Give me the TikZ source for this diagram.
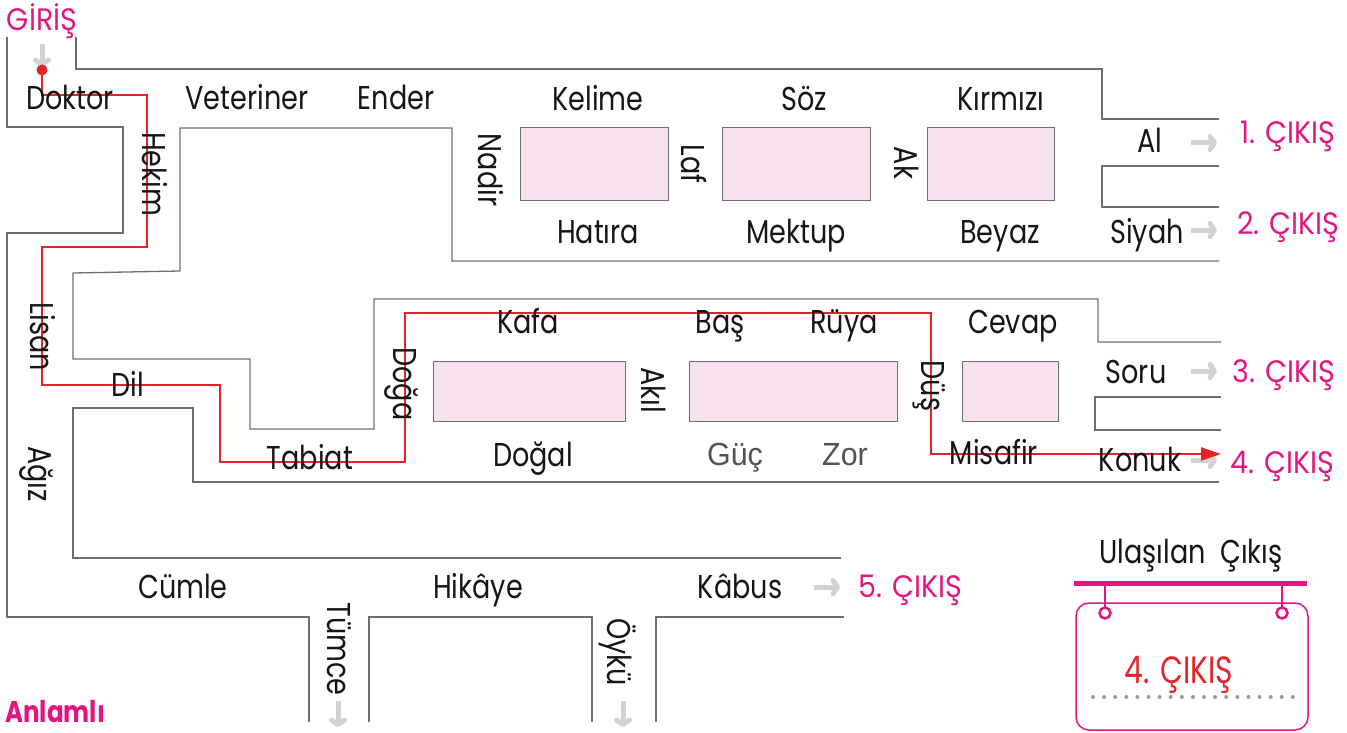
\documentclass[tikz,border=0pt]{standalone}
\usepackage{fontspec}
\setmainfont{Poppins}[FakeStretch=0.82]
\newfontfamily\exitfont{Poppins}[FakeStretch=0.92]
\newfontfamily\condfont{Liberation Sans}[FakeStretch=0.95]
\newfontfamily\signfont{Poppins}[FakeStretch=0.78]
\usetikzlibrary{arrows.meta}
\definecolor{wallgray}{HTML}{6E6E6E}
\definecolor{boxpink}{HTML}{F7E1EC}
\definecolor{exitpink}{HTML}{E5157F}
\definecolor{routered}{HTML}{E3242B}
\definecolor{arrgray}{HTML}{D2D2D2}
\definecolor{txtblack}{HTML}{151515}
\definecolor{dotgray}{HTML}{9A9A9A}
\begin{document}
\begin{tikzpicture}[x=1pt,y=-1pt,
  wall/.style={draw=wallgray, line width=1.3pt},
  pinkbox/.style={draw=wallgray, fill=boxpink, line width=1pt},
  lbl/.style={font=\fontsize{33}{33}\selectfont, text=txtblack, inner sep=0pt, anchor=base},
  vlbl/.style={lbl, rotate=-90},
  thinlbl/.style={font=\condfont\fontsize{32}{32}\selectfont, text=black!68, inner sep=0pt, anchor=base},
  exitlbl/.style={font=\exitfont\fontsize{31}{31}\selectfont, text=exitpink, inner sep=0pt, anchor=base west},
  grayarr/.style={draw=arrgray, line width=5pt, -{Straight Barb[length=4.5pt,width=13pt,round]}},
  route/.style={draw=routered, line width=2.4pt},
  signline/.style={draw=exitpink, line width=2.5pt}
]
\useasboundingbox (0,0) rectangle (1347,733);

% ---------------- walls ----------------
\draw[wall] (7,37) -- (7,127) -- (123,127) -- (123,233) -- (7,233) -- (7,617) -- (309,617) -- (309,722);
\draw[wall] (76,37) -- (76,69) -- (1102,69) -- (1102,119) -- (1219,119);
\draw[wall] (1219,166) -- (1102,166) -- (1102,207) -- (1219,207);
\draw[wall] (1219,261) -- (452,261) -- (452,128) -- (180,128) -- (180,271) -- (73,273) -- (73,359) -- (250,359) -- (250,429) -- (374,429) -- (374,299) -- (1098,299) -- (1098,342) -- (1221,342);
\draw[wall] (1221,397) -- (1095,397) -- (1095,430) -- (1221,430);
\draw[wall] (1219,482) -- (193,482) -- (193,408) -- (73,408) -- (73,558) -- (841,558);
\draw[wall] (369,722) -- (369,617) -- (592,617) -- (592,722);
\draw[wall] (656,722) -- (656,617) -- (844,617);

% ---------------- pink boxes ----------------
\draw[pinkbox] (520,128) rectangle (668,200);
\draw[pinkbox] (722,128) rectangle (870,200);
\draw[pinkbox] (927,128) rectangle (1054,200);
\draw[pinkbox] (433,361) rectangle (625,421);
\draw[pinkbox] (689,361) rectangle (897,421);
\draw[pinkbox] (962,361) rectangle (1058,421);

% ---------------- gray arrows ----------------
\coordinate (e0s) at (42,44);   \coordinate (e0e) at (42,67);
\coordinate (x1s) at (1191,143); \coordinate (x1e) at (1217,143);
\coordinate (x2s) at (1191,230); \coordinate (x2e) at (1217,230);
\coordinate (x3s) at (1191,371); \coordinate (x3e) at (1217,371);
\coordinate (x4s) at (1191,460); \coordinate (x4e) at (1217,460);
\coordinate (x5s) at (814,587);  \coordinate (x5e) at (840,587);
\coordinate (t1s) at (338,701);  \coordinate (t1e) at (338,727);
\coordinate (t2s) at (623,701);  \coordinate (t2e) at (623,727);
\foreach \a in {e0,x1,x2,x3,x4,x5,t1,t2}{\draw[grayarr] (\a s) -- (\a e);}

% ---------------- red route ----------------
\coordinate (r0) at (42,70);
\coordinate (r1) at (42,95);
\coordinate (r2) at (147,95);
\coordinate (r3) at (147,247);
\coordinate (r4) at (42,247);
\coordinate (r5) at (42,385);
\coordinate (r6) at (220,385);
\coordinate (r7) at (220,462);
\coordinate (r8) at (405,462);
\coordinate (r9) at (405,313);
\coordinate (r10) at (931,313);
\coordinate (r11) at (931,454);
\coordinate (r12) at (1221,454);
\draw[route, -{Triangle[length=20pt,width=13pt]}] (r0) -- (r1) -- (r2) -- (r3) -- (r4) -- (r5) -- (r6) -- (r7) -- (r8) -- (r9) -- (r10) -- (r11) -- (r12);
\fill[routered] (r0) circle (5.5pt);

% ---------------- horizontal labels ----------------
\node[lbl] (doktor) at (70,110) {Doktor};
\node[lbl] (veteriner) at (247,110) {Veteriner};
\node[lbl] (ender) at (396,110) {Ender};
\node[lbl] (kelime) at (598,111) {Kelime};
\node[lbl] (soz) at (804,111) {Söz};
\node[lbl] (kirmizi) at (1001,111) {Kırmızı};
\node[lbl] (al) at (1150,153) {Al};
\node[lbl] (hatira) at (598,243) {Hatıra};
\node[lbl] (mektup) at (796,243) {Mektup};
\node[lbl] (beyaz) at (1000,243) {Beyaz};
\node[lbl] (siyah) at (1147,243) {Siyah};
\node[lbl] (dil) at (128,396) {Dil};
\node[lbl] (kafa) at (528,333) {Kafa};
\node[lbl] (bas) at (720,333) {Baş};
\node[lbl] (ruya) at (844,333) {Rüya};
\node[lbl] (cevap) at (1013,333) {Cevap};
\node[lbl] (soru) at (1136,383) {Soru};
\node[lbl] (tabiat) at (310,469) {Tabiat};
\node[lbl] (dogal) at (533,466) {Doğal};
\node[thinlbl] (guc) at (735,465) {Güç};
\node[thinlbl] (zor) at (845,465) {Zor};
\node[lbl] (misafir) at (994,464) {Misafir};
\node[lbl] (konuk) at (1140,471) {Konuk};
\node[lbl] (cumle) at (183,598) {Cümle};
\node[lbl] (hikaye) at (478,598) {Hikâye};
\node[lbl] (kabus) at (740,598) {Kâbus};

% ---------------- vertical labels ----------------
\node[vlbl] (hekim) at (142,174) {Hekim};
\node[vlbl] (nadir) at (478,170) {Nadir};
\node[vlbl] (laf) at (681,164) {Laf};
\node[vlbl] (ak) at (894,163) {Ak};
\node[vlbl] (lisan) at (30,337) {Lisan};
\node[vlbl] (doga) at (393,384) {Doğa};
\node[vlbl] (akil) at (641,390) {Akıl};
\node[vlbl] (dus) at (921,386) {Düş};
\node[vlbl] (agiz) at (28,474) {Ağız};
\node[vlbl] (tumce) at (327,649) {Tümce};
\node[vlbl] (oyku) at (607,652) {Öykü};

% ---------------- entry / exits ----------------
\node[exitlbl, anchor=base] (giris) at (42,31) {GİRİŞ};
\node[exitlbl] (c1) at (1240,144) {1. ÇIKIŞ};
\node[exitlbl] (c2) at (1237,234) {2. ÇIKIŞ};
\node[exitlbl] (c3) at (1232,382) {3. ÇIKIŞ};
\node[exitlbl] (c4) at (1230,473) {4. ÇIKIŞ};
\node[exitlbl] (c5) at (858,597) {5. ÇIKIŞ};
\node[font=\bfseries\fontsize{30}{30}\selectfont, text=exitpink, inner sep=0pt, anchor=base west] (anlamli) at (5,722) {Anlamlı};

% ---------------- result sign ----------------
\node[lbl] (ulas) at (1191,563) {Ulaşılan\ \ Çıkış};
\draw[draw=exitpink, line width=1.5pt, rounded corners=13pt] (1076,603) rectangle (1308,730);
\draw[draw=exitpink, line width=5pt] (1074,583) -- (1307,583);
\coordinate (p1) at (1105,583); \coordinate (h1) at (1105,613);
\coordinate (p2) at (1282,583); \coordinate (h2) at (1282,613);
\draw[signline] (p1) -- (h1);
\draw[signline] (p2) -- (h2);
\draw[signline, fill=white] (h1) circle (5.5pt);
\draw[signline, fill=white] (h2) circle (5.5pt);
\foreach \i in {0,...,18}{\fill[dotgray] (1093+\i*11.1,697) circle (2pt);}
\node[font=\signfont\fontsize{38}{38}\selectfont, text=routered, inner sep=0pt, anchor=base] (answer) at (1179,683) {4. ÇIKIŞ};
\end{tikzpicture}
\end{document}
